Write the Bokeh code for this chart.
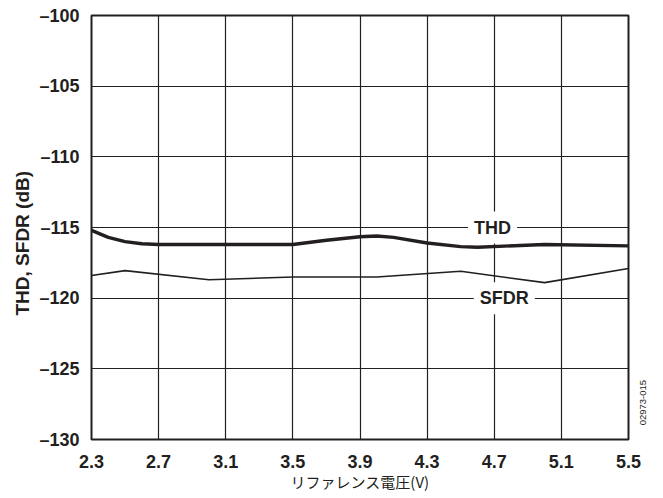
import math
from bokeh.plotting import figure
from bokeh.models import (Range1d, FixedTicker, CustomJSTickFormatter, Label, Title,
                          LinearAxis)
from bokeh.embed import file_html
from bokeh.resources import INLINE

# ---- data ----
thd_x = [2.3, 2.4, 2.5, 2.6, 2.7, 3.0, 3.5, 3.7, 3.9, 4.0, 4.1, 4.3, 4.5, 4.6, 5.0, 5.5]
thd_y = [-115.2, -115.7, -116.0, -116.15, -116.2, -116.2, -116.2, -115.9, -115.65, -115.6,
         -115.7, -116.1, -116.35, -116.4, -116.2, -116.3]
sfdr_x = [2.3, 2.5, 3.0, 3.5, 4.0, 4.5, 5.0, 5.5]
sfdr_y = [-118.4, -118.05, -118.7, -118.5, -118.5, -118.1, -118.9, -117.9]
x_ticks = [2.3, 2.7, 3.1, 3.5, 3.9, 4.3, 4.7, 5.1, 5.5]
y_ticks = [-130, -125, -120, -115, -110, -105, -100]
x_title = "リファレンス電圧(V)"
y_title = "THD, SFDR (dB)"
series_labels = ["THD", "SFDR"]
figure_id = "02973-015"
figure_id_y = [-129.0]

INK = "#231f20"
FONT = "Liberation Sans"

p = figure(frame_width=537, frame_height=424, output_backend="svg", toolbar_location=None,
           x_range=Range1d(2.3, 5.5), y_range=Range1d(-130, -100),
           min_border_left=91, min_border_right=34, min_border_top=15, min_border_bottom=58)
p.outline_line_color = INK
p.outline_line_width = 2
p.background_fill_color = "white"
p.border_fill_color = "white"

for ax in (p.xaxis[0], p.yaxis[0]):
    ax.axis_line_color = None
    ax.major_tick_line_color = None
    ax.minor_tick_line_color = None
    ax.major_label_text_font = FONT
    ax.major_label_text_font_style = "bold"
    ax.major_label_text_font_size = "18px"
    ax.major_label_text_color = INK

p.xaxis.ticker = FixedTicker(ticks=x_ticks)
p.yaxis.ticker = FixedTicker(ticks=y_ticks)
p.xaxis.formatter = CustomJSTickFormatter(code="return tick.toFixed(1);")
p.yaxis.formatter = CustomJSTickFormatter(
    code="return (tick < 0 ? '\\u2013' : '') + Math.abs(tick).toFixed(0);")
p.xaxis.major_label_standoff = 9
p.yaxis.major_label_standoff = 6

p.xaxis.axis_label = x_title
p.xaxis.axis_label_text_font = "Noto Sans CJK JP"
p.xaxis.axis_label_text_font_style = "normal"
p.xaxis.axis_label_text_font_size = "15px"
p.xaxis.axis_label_text_color = INK
p.xaxis.axis_label_standoff = 0

# y-axis title as a left-side title, shifted below the frame centre as in the reference
p.add_layout(Title(text=y_title, align="left", offset=124, standoff=8,
                   text_font=FONT, text_font_style="bold", text_font_size="19px",
                   text_color=INK), "left")

# figure id, written vertically at the right of the frame
id_axis = LinearAxis(ticker=FixedTicker(ticks=figure_id_y),
                     formatter=CustomJSTickFormatter(args=dict(t=figure_id), code="return t;"),
                     major_label_orientation=math.pi / 2, major_label_standoff=9,
                     axis_line_color=None, major_tick_line_color=None,
                     minor_tick_line_color=None,
                     major_label_text_font=FONT, major_label_text_font_size="9.5px",
                     major_label_text_color=INK)
p.add_layout(id_axis, "right")

p.xgrid.ticker = FixedTicker(ticks=x_ticks)
p.ygrid.ticker = FixedTicker(ticks=y_ticks)
for g in (p.xgrid[0], p.ygrid[0]):
    g.grid_line_color = INK
    g.grid_line_width = 1.2
    g.grid_line_alpha = 1.0

p.line(thd_x, thd_y, line_color=INK, line_width=3.4)
p.line(sfdr_x, sfdr_y, line_color=INK, line_width=1.6)

lbl_pos = [(4.69, -115), (4.76, -120)]
for txt, (lx, ly) in zip(series_labels, lbl_pos):
    p.add_layout(Label(x=lx, y=ly, text=txt, text_align="center", text_baseline="middle",
                       text_font=FONT, text_font_style="bold", text_font_size="18px",
                       text_color=INK, background_fill_color="white",
                       background_fill_alpha=1.0, padding=6))

open("out.html", "w").write(file_html(p, INLINE))
